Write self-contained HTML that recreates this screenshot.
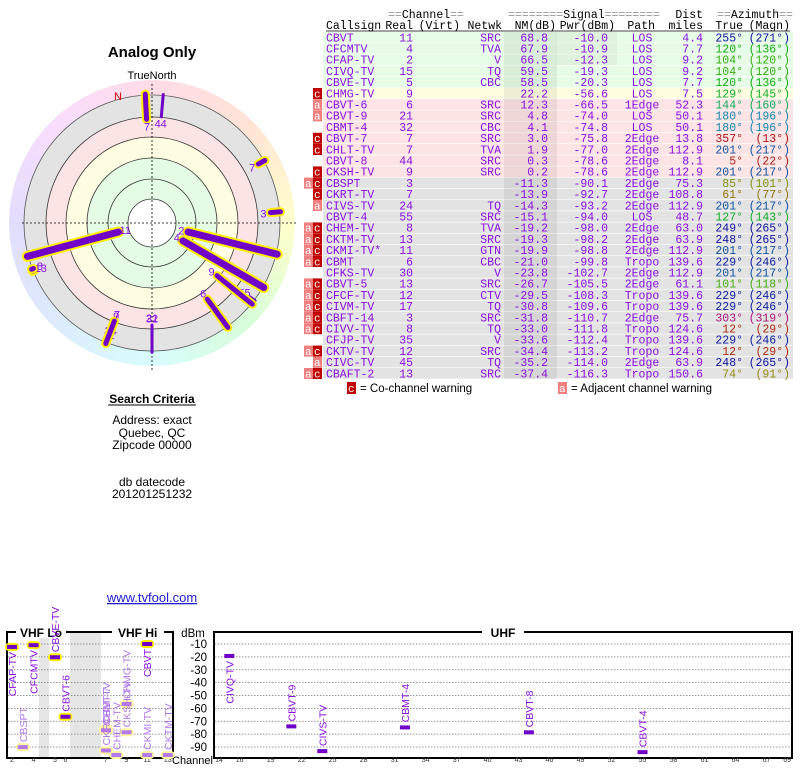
<!DOCTYPE html>
<html><head><meta charset="utf-8">
<style>
html,body{margin:0;padding:0;background:#fff;width:800px;height:768px;overflow:hidden}
svg{display:block}
.m{font-family:"Liberation Mono","DejaVu Sans Mono",monospace;font-size:11.5px}
.s{font-family:"Liberation Sans",sans-serif}
</style></head>
<body>
<svg id="pg" width="800" height="768" viewBox="0 0 800 768" xmlns="http://www.w3.org/2000/svg">
<defs>
<clipPath id="ringclip"><circle cx="152" cy="223" r="143"/></clipPath>
</defs>
<g>
<text x="152" y="57" text-anchor="middle" class="s" font-size="15" font-weight="bold">Analog Only</text>
<text x="152" y="79" text-anchor="middle" class="s" font-size="11">TrueNorth</text>
<foreignObject x="9" y="80" width="286" height="286" clip-path="url(#ringclip)">
<div xmlns="http://www.w3.org/1999/xhtml" style="width:286px;height:286px;border-radius:50%;background:conic-gradient(hsl(340,100%,93%),hsl(20,100%,92%) 45deg,hsl(60,100%,90%) 90deg,hsl(120,90%,92%) 135deg,hsl(180,90%,92%) 180deg,hsl(215,90%,93%) 225deg,hsl(250,90%,93%) 270deg,hsl(290,90%,93%) 315deg,hsl(340,100%,93%))"></div>
</foreignObject>
<circle cx="152" cy="223" r="128" fill="#e3e3e3" stroke="#555" stroke-width="0.8"/>
<circle cx="152" cy="223" r="106" fill="#fde4e4" stroke="#333" stroke-width="0.8"/>
<circle cx="152" cy="223" r="86" fill="#fffde2" stroke="#333" stroke-width="0.8"/>
<circle cx="152" cy="223" r="65" fill="#e4fbe4" stroke="#333" stroke-width="0.8"/>
<circle cx="152" cy="223" r="44" fill="#e4fbe4" stroke="#333" stroke-width="0.8"/>
<circle cx="152" cy="223" r="24" fill="#fff" stroke="#333" stroke-width="0.8"/>
<line x1="22" y1="223" x2="296" y2="223" stroke="#000" stroke-width="0.8" stroke-dasharray="2,2"/>
<line x1="152" y1="84" x2="152" y2="370" stroke="#000" stroke-width="0.8" stroke-dasharray="2,2"/>
<text x="118" y="100" text-anchor="middle" class="s" font-size="11" fill="#d00000">N</text>
<g id="polar-bars"></g>
</g>
<g class="s" font-size="12" text-anchor="middle">
<text x="152" y="403" font-weight="bold">Search Criteria</text>
<line x1="108" y1="405" x2="196" y2="405" stroke="#000" stroke-width="1"/>
<text x="152" y="424">Address: exact</text>
<text x="152" y="437">Quebec, QC</text>
<text x="152" y="449">Zipcode 00000</text>
<text x="152" y="486">db datecode</text>
<text x="152" y="498">201201251232</text>
<text x="152" y="602" font-size="13" fill="#2020d0" text-decoration="underline">www.tvfool.com</text>
</g>
<g id="table" class="m">
<g fill="#000">
<text x="388" y="18"><tspan fill="#999">==</tspan>Channel<tspan fill="#999">==</tspan></text>
<text x="508" y="18"><tspan fill="#999">========</tspan>Signal<tspan fill="#999">========</tspan></text>
<text x="703" y="18" text-anchor="end">Dist</text>
<text x="717" y="18"><tspan fill="#999">==</tspan>Azimuth<tspan fill="#999">==</tspan></text>
<text x="326" y="29">Callsign</text>
<text x="413" y="29" text-anchor="end">Real</text>
<text x="460" y="29" text-anchor="end">(Virt)</text>
<text x="502" y="29" text-anchor="end">Netwk</text>
<text x="556" y="29" text-anchor="end">NM(dB)</text>
<text x="615" y="29" text-anchor="end">Pwr(dBm)</text>
<text x="655" y="29" text-anchor="end">Path</text>
<text x="703" y="29" text-anchor="end">miles</text>
<text x="743" y="29" text-anchor="end">True</text>
<text x="790" y="29" text-anchor="end">(Magn)</text>
<line x1="326" y1="31" x2="790" y2="31" stroke="#000" stroke-width="0.8"/>
</g>
<g id="rows"></g>
<rect x="504" y="32" width="53" height="347" fill="rgba(0,0,0,0.06)"/>
<rect x="557" y="32" width="60" height="33" fill="rgba(120,100,60,0.06)"/>
<g id="rowtext"></g>
<g>
<rect x="347" y="382" width="9" height="12" fill="#c00000"/>
<text x="348" y="392" fill="#fff" font-size="11">c</text>
<text x="360" y="392" class="s" font-size="11.5" fill="#000">= Co-channel warning</text>
<rect x="558" y="382" width="9" height="12" fill="#f08080"/>
<text x="559" y="392" fill="#fff" font-size="11">a</text>
<text x="571" y="392" class="s" font-size="11.5" fill="#000">= Adjacent channel warning</text>
</g>
</g>
<g id="spectrum">
<rect x="39" y="633" width="10" height="124" fill="#e6e6e6"/>
<rect x="70" y="633" width="31" height="124" fill="#e6e6e6"/>
<g id="grid"></g>
<rect x="7" y="632" width="166" height="126" fill="none" stroke="#000" stroke-width="2"/>
<rect x="214" y="632" width="578" height="126" fill="none" stroke="#000" stroke-width="2"/>
<rect x="16" y="626" width="50" height="12" fill="#fff"/>
<text x="20" y="637" class="s" font-size="12" font-weight="bold">VHF Lo</text>
<rect x="112" y="626" width="52" height="12" fill="#fff"/>
<text x="118" y="637" class="s" font-size="12" font-weight="bold">VHF Hi</text>
<rect x="482" y="626" width="42" height="12" fill="#fff"/>
<text x="503" y="637" text-anchor="middle" class="s" font-size="12" font-weight="bold">UHF</text>
<text x="193" y="637" text-anchor="middle" class="s" font-size="11.5">dBm</text>
<text x="172" y="764" class="s" font-size="11">Channel</text>
<g id="yticks"></g><g id="xticks"></g><g id="marks"></g>
</g>
</svg>
<script>
const NS="http://www.w3.org/2000/svg";
const calls=["CBVT","CFCMTV","CFAP-TV","CIVQ-TV","CBVE-TV","CHMG-TV","CBVT-6","CBVT-9","CBMT-4","CBVT-7","CHLT-TV","CBVT-8","CKSH-TV","CBSPT","CKRT-TV","CIVS-TV","CBVT-4","CHEM-TV","CKTM-TV","CKMI-TV*","CBMT","CFKS-TV","CBVT-5","CFCF-TV","CIVM-TV","CBFT-14","CIVV-TV","CFJP-TV","CKTV-TV","CIVC-TV","CBAFT-2"];
const real=[11,4,2,15,5,9,6,21,32,7,7,44,9,3,7,24,55,8,13,11,6,30,13,12,17,3,8,35,12,45,13];
const netwk=["SRC","TVA","V","TQ","CBC","","SRC","SRC","CBC","SRC","TVA","SRC","SRC","","","TQ","SRC","TVA","SRC","GTN","CBC","V","SRC","CTV","TQ","SRC","TQ","V","SRC","TQ","SRC"];
const nm=[68.8,67.9,66.5,59.5,58.5,22.2,12.3,4.8,4.1,3.0,1.9,0.3,0.2,-11.3,-13.9,-14.3,-15.1,-19.2,-19.3,-19.9,-21.0,-23.8,-26.7,-29.5,-30.8,-31.8,-33.0,-33.6,-34.4,-35.2,-37.4];
const pwr=[-10.0,-10.9,-12.3,-19.3,-20.3,-56.6,-66.5,-74.0,-74.8,-75.8,-77.0,-78.6,-78.6,-90.1,-92.7,-93.2,-94.0,-98.0,-98.2,-98.8,-99.8,-102.7,-105.5,-108.3,-109.6,-110.7,-111.8,-112.4,-113.2,-114.0,-116.3];
const pathT=["LOS","LOS","LOS","LOS","LOS","LOS","1Edge","LOS","LOS","2Edge","2Edge","2Edge","2Edge","2Edge","2Edge","2Edge","LOS","2Edge","2Edge","2Edge","Tropo","2Edge","2Edge","Tropo","Tropo","2Edge","Tropo","Tropo","Tropo","2Edge","Tropo"];
const dist=[4.4,7.7,9.2,9.2,7.7,7.5,52.3,50.1,50.1,13.8,112.9,8.1,112.9,75.3,108.8,112.9,48.7,63.0,63.9,112.9,139.6,112.9,61.1,139.6,139.6,75.7,124.6,139.6,124.6,63.9,150.6];
const az=[255,120,104,104,120,129,144,180,180,357,201,5,201,85,61,201,127,249,248,201,229,201,101,229,229,303,12,229,12,248,74];
const magn=[271,136,120,120,136,145,160,196,196,13,217,22,217,101,77,217,143,265,265,217,246,217,118,246,246,319,29,246,29,265,91];
const badge=["","","","","","C","a","a","","C","C","","C","aC","C","a","","aC","aC","aC","aC","","aC","aC","aC","aC","aC","","aC","a","aC"];
const dbmTicks=[-10,-20,-30,-40,-50,-60,-70,-80,-90];
const vhfTicks=[2,4,5,6,7,9,11,13];
const uhfTicks=[14,16,19,22,25,28,31,34,37,40,43,46,49,52,55,58,61,64,67,69];

function mk(tag,attrs,parent,txt){const e=document.createElementNS(NS,tag);for(const k in attrs)e.setAttribute(k,attrs[k]);if(txt!==undefined)e.textContent=txt;parent.appendChild(e);return e;}
function hueOf(a){const p=[[0,0],[60,45],[90,70],[105,110],[120,120],[145,150],[180,195],[201,212],[230,235],[255,240],[303,320],[360,360]];for(let i=1;i<p.length;i++){if(a<=p[i][0]){const t=(a-p[i-1][0])/(p[i][0]-p[i-1][0]);return p[i-1][1]+t*(p[i][1]-p[i-1][1]);}}return 0;}
function azColor(a){const h=hueOf(a);let l=(h>40&&h<80)?32:(h>200&&h<260?35:38);return `hsl(${h},80%,${l}%)`;}

const rowsG=document.getElementById('rows'),txtG=document.getElementById('rowtext');
const rowTop=i=>32+i*11.2;
const P="#8a10e0";
calls.forEach((c,i)=>{
  const y=rowTop(i);
  const bg=i<5?"#e6fce6":i===5?"#fffde0":i<13?"#fde4e4":"#e3e3e3";
  const r=mk('rect',{x:323,y:y,width:470,height:10.6,fill:bg},rowsG);
  
  
  const g=mk('g',{},txtG);
  
  
  const by=y+9.3;
  const col=azColor(az[i]);
  const t=(x,s,anc,fill)=>mk('text',{x:x,y:by,'text-anchor':anc,fill:fill},g,s);
  t(326,c,'start',P);
  t(413,String(real[i]),'end',P);
  t(501,netwk[i],'end',P);
  t(548,nm[i].toFixed(1),'end',P);
  t(608,pwr[i].toFixed(1),'end',P);
  t(642,pathT[i],'middle',P);
  t(703,dist[i].toFixed(1),'end',P);
  t(743,az[i]+"°",'end',col);
  t(790,"("+magn[i]+"°)",'end',col);
  const b=badge[i];
  if(b.includes('C')){mk('rect',{x:313,y:y,width:9,height:11,fill:"#c00000"},g);mk('text',{x:314,y:by,fill:"#fff","font-size":"11"},g,'c');}
  if(b.includes('a')){const ax=b.includes('C')?304:313;mk('rect',{x:ax,y:y,width:9,height:11,fill:"#f08080"},g);mk('text',{x:ax+1,y:by,fill:"#fff","font-size":"11"},g,'a');}
});

const pb=document.getElementById('polar-bars');
const cx=152,cy=223;
const rOf=v=>Math.min(127,Math.max(26,107-1.05*v));
const pt=(r,a)=>[cx+r*Math.sin(a*Math.PI/180),cy-r*Math.cos(a*Math.PI/180)];
const order=calls.map((c,i)=>i).filter(i=>nm[i]>-20).reverse();
order.forEach(i=>{
  const r0=rOf(nm[i]),[x0,y0]=pt(r0,az[i]),[x1,y1]=pt(129,az[i]);
  const w=(real[i]>=14?3:5)+(nm[i]>50?2:0);
  if(real[i]<14||real[i]===15){const o=mk('line',{x1:x0,y1:y0,x2:x1,y2:y1,stroke:"#ffee00","stroke-width":w+4,"stroke-linecap":"round"},pb);
  
  }
  const l=mk('line',{x1:x0,y1:y0,x2:x1,y2:y1,stroke:"#7000c8","stroke-width":w,"stroke-linecap":"round"},pb);
  
  
  const [lx,ly]=pt(r0-7,az[i]);
  const tx=mk('text',{x:lx,y:ly+4,'text-anchor':'middle',fill:"#8a10e0","font-size":"11",class:"s"},pb,String(real[i]));
  
  
});

const yOf=d=>644+(-10-d)/80*103;
const xOf=ch=>{if(ch>=14)return 219+(ch-14)*10.33;if(ch<=4)return 12+(ch-2)*10.8;if(ch<=6)return 55+(ch-5)*10.5;return 106+(ch-7)*10.3;};
const grid=document.getElementById('grid'),yt=document.getElementById('yticks'),xt=document.getElementById('xticks'),mg=document.getElementById('marks');
dbmTicks.forEach(d=>{
  const y=yOf(d);
  [[8,172],[215,791]].forEach(([a,b])=>{const l=mk('line',{x1:a,y1:y,x2:b,y2:y,stroke:"#777","stroke-width":"0.8","stroke-dasharray":"1.5,1.5"},grid);
  
  });
  const t=mk('text',{x:207,y:y+4,'text-anchor':'end',class:'s','font-size':'11.5'},yt,String(d));
  
  
});
vhfTicks.concat(uhfTicks).forEach(ch=>{
  const t=mk('text',{x:xOf(ch),y:762,'text-anchor':'middle',class:'s','font-size':'7',fill:'#333'},xt,String(ch));
  
  
});
calls.forEach((c,i)=>{
  if(pwr[i]<=-99.5)return;
  const ch=real[i],x=xOf(ch),y=Math.min(755,yOf(pwr[i]));
  const vhf=ch<14,faded=vhf&&(nm[i]<0||badge[i].includes('C'));
  const fill=faded?"#b478e8":"#7000c8";
  if(vhf){const gl=mk('rect',{x:x-7,y:y-4,width:14,height:8,rx:4,fill:faded?"#fff7a0":"#ffee00"},mg);
  
  }
  const m=mk('rect',{x:x-5,y:y-2,width:10,height:4,fill:fill},mg);
  
  
  const below=pwr[i]>-20;
  const ty=below?y+5:y-5;
  const lab=mk('text',{x:0,y:0,transform:`translate(${x+4},${ty}) rotate(-90)`,'text-anchor':below?'end':'start',class:'s','font-size':'10.5',fill:faded?"#b478e8":"#8a10e0"},mg,c.replace('*',''));
  
  
});
</script>
</body></html>
